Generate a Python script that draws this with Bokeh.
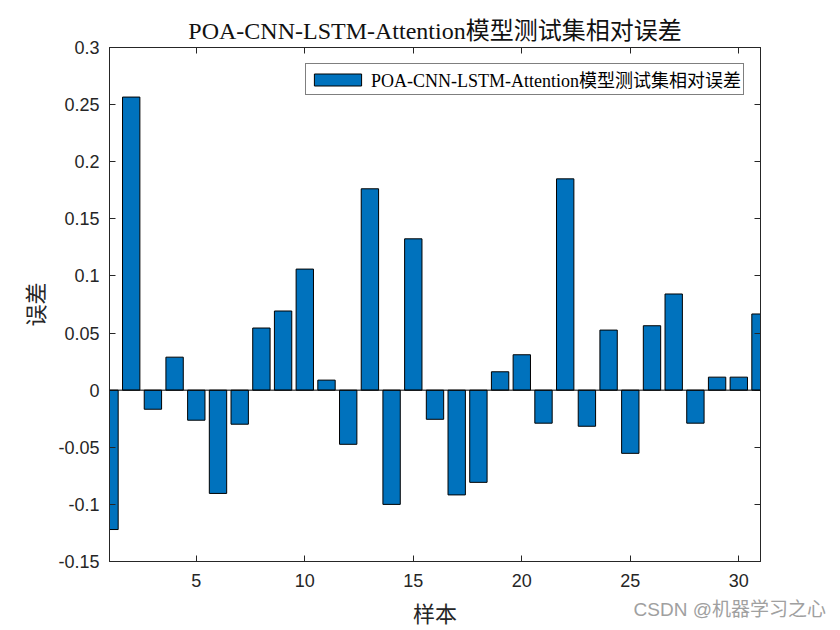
from bokeh.plotting import figure
from bokeh.models import (ColumnDataSource, FixedTicker, LinearAxis, Range1d, Span,
                          Div, CustomJSTickFormatter)
from bokeh.layouts import column
from bokeh.embed import file_html
from bokeh.resources import INLINE

# ---- data ----
samples = list(range(1, 32))
errors = [-0.122, 0.2566, -0.0167, 0.0289, -0.0263, -0.0904, -0.0298, 0.0544,
          0.0693, 0.106, 0.0088, -0.0474, 0.1763, -0.100, 0.1325, -0.0255,
          -0.0917, -0.0807, 0.0161, 0.031, -0.0289, 0.185, -0.0316, 0.0526,
          -0.0553, 0.0564, 0.0842, -0.0289, 0.0114, 0.0114, 0.0667]
x_ticks = [5, 10, 15, 20, 25, 30]
y_ticks = [-0.15, -0.1, -0.05, 0, 0.05, 0.1, 0.15, 0.2, 0.25, 0.3]
y_tick_labels = ["-0.15", "-0.1", "-0.05", "0", "0.05", "0.1", "0.15", "0.2", "0.25", "0.3"]
title_text = "POA-CNN-LSTM-Attention模型测试集相对误差"
legend_text = "POA-CNN-LSTM-Attention模型测试集相对误差"
x_label = "样本"
y_label = "误差"
watermark = "CSDN @机器学习之心"

BAR_COLOR = "#0072BD"
AX_COLOR = "#262626"
SERIF = "'Liberation Serif', 'Noto Sans CJK SC'"
SANS = "'Liberation Sans', 'Noto Sans CJK SC'"

src = ColumnDataSource(dict(x=samples, y=errors))

p = figure(frame_width=651, frame_height=514,
           x_range=Range1d(1, 31), y_range=Range1d(-0.15, 0.3),
           output_backend="svg", toolbar_location=None,
           min_border_left=109, min_border_right=72,
           min_border_top=47, min_border_bottom=69,
           title=title_text)

p.vbar(x="x", top="y", bottom=0, width=0.8, source=src,
       fill_color=BAR_COLOR, line_color="black", line_width=1,
       legend_label=legend_text)
p.add_layout(Span(location=0, dimension="width", line_color="black", line_width=1))

p.grid.visible = False
p.outline_line_color = AX_COLOR
p.outline_line_width = 1
p.background_fill_color = "white"
p.border_fill_color = "white"

# title
p.title.text_font = SERIF
p.title.text_font_size = "24px"
p.title.text_font_style = "normal"
p.title.text_color = "#111111"
p.title.align = "center"
p.title.standoff = 7

# main axes
xa = p.xaxis[0]
xa.ticker = FixedTicker(ticks=x_ticks)
ya = p.yaxis[0]
ya.ticker = FixedTicker(ticks=y_ticks)
ya.major_label_overrides = {t: l for t, l in zip(y_ticks, y_tick_labels)}
for ax in (xa, ya):
    ax.axis_line_color = AX_COLOR
    ax.major_tick_line_color = AX_COLOR
    ax.major_tick_in = 6
    ax.major_tick_out = 0
    ax.minor_tick_line_color = None
    ax.major_label_text_font = "Liberation Sans"
    ax.major_label_text_font_size = "18px"
    ax.major_label_text_color = AX_COLOR
    ax.axis_label_text_font = "Noto Sans CJK SC"
    ax.axis_label_text_font_size = "22px"
    ax.axis_label_text_font_style = "normal"
    ax.axis_label_text_color = AX_COLOR
xa.major_label_standoff = 12
ya.major_label_standoff = 10
xa.axis_label = x_label
xa.axis_label_standoff = 6
ya.axis_label = y_label
ya.axis_label_standoff = 5

# mirror axes (box ticks on top and right)
blank = CustomJSTickFormatter(code="return ''")
top = LinearAxis(ticker=FixedTicker(ticks=x_ticks), formatter=blank,
                 major_tick_in=6, major_tick_out=0, minor_tick_line_color=None,
                 axis_line_color=AX_COLOR, major_tick_line_color=AX_COLOR,
                 major_label_standoff=0)
right = LinearAxis(ticker=FixedTicker(ticks=y_ticks), formatter=blank,
                   major_tick_in=6, major_tick_out=0, minor_tick_line_color=None,
                   axis_line_color=AX_COLOR, major_tick_line_color=AX_COLOR,
                   major_label_standoff=0)
p.add_layout(top, "above")
p.add_layout(right, "right")

# legend
lg = p.legend[0]
lg.location = "top_right"
lg.margin = 16
lg.padding = 2
lg.spacing = 0
lg.glyph_width = 59
lg.glyph_height = 15
lg.label_standoff = 4
lg.label_text_font = SERIF
lg.label_text_font_size = "18px"
lg.label_text_color = "black"
lg.label_height = 18
lg.border_line_color = "black"
lg.border_line_width = 1
lg.background_fill_alpha = 1

# watermark (overlaps the bottom border of the figure)
wm = Div(text=watermark, width=826, height=24, margin=(-34, 0, 0, 0),
         styles={"text-align": "right", "color": "#a0a0a0", "font-size": "19px",
                 "font-family": SANS})

layout = column(p, wm, spacing=0)

open("out.html", "w").write(file_html(layout, INLINE))
